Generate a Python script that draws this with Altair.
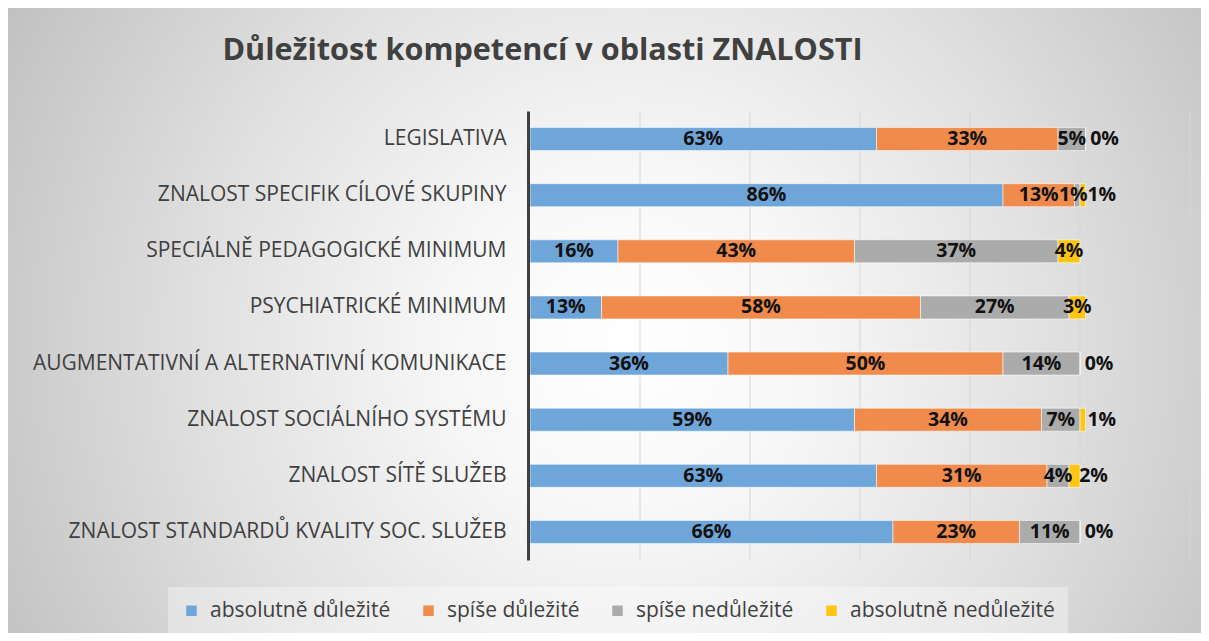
import altair as alt
import pandas as pd

categories = [
    "LEGISLATIVA",
    "ZNALOST SPECIFIK CÍLOVÉ SKUPINY",
    "SPECIÁLNĚ PEDAGOGICKÉ MINIMUM",
    "PSYCHIATRICKÉ MINIMUM",
    "AUGMENTATIVNÍ A ALTERNATIVNÍ KOMUNIKACE",
    "ZNALOST SOCIÁLNÍHO SYSTÉMU",
    "ZNALOST SÍTĚ SLUŽEB",
    "ZNALOST STANDARDŮ KVALITY SOC. SLUŽEB",
]
series = ["absolutně důležité", "spíše důležité", "spíše nedůležité", "absolutně nedůležité"]
absolutne_dulezite = [63, 86, 16, 13, 36, 59, 63, 66]
spise_dulezite = [33, 13, 43, 58, 50, 34, 31, 23]
spise_nedulezite = [5, 1, 37, 27, 14, 7, 4, 11]
absolutne_nedulezite = [0, 1, 4, 3, 0, 1, 2, 0]
colors = ["#6FA6DA", "#F08B4C", "#ABABAB", "#FFC514"]
grid_ticks = [20, 40, 60, 80, 100, 120]
title_text = "Důležitost kompetencí v oblasti ZNALOSTI"

rows = []
for s_i, (s_name, vals) in enumerate(zip(series, [absolutne_dulezite, spise_dulezite,
                                                   spise_nedulezite, absolutne_nedulezite])):
    for c, v in zip(categories, vals):
        rows.append({"cat": c, "series": s_name, "order": s_i, "value": v})
df = pd.DataFrame(rows)

FONT = "Open Sans"
W, H = 1193, 625
PLOT_TOP, PLOT_BOTTOM = 103, 552

xscale = alt.Scale(domain=[0, 120], range=[522, 1182], nice=False)
yenc = alt.Y(
    "cat:N",
    sort=categories,
    scale=alt.Scale(range=[PLOT_TOP, PLOT_BOTTOM], paddingInner=0.59, paddingOuter=0.295),
    axis=alt.Axis(title=None, offset=-520, domainColor="#404040", domainWidth=3,
                  ticks=False, labelFontSize=21, labelFont=FONT, labelColor="#404040",
                  labelPadding=22, grid=False, labelLimit=700, zindex=1),
)

background = alt.Chart(pd.DataFrame({"bg": [0]})).mark_rect(
    fill={
        "gradient": "radial",
        "x1": 0.52, "y1": 0.52, "x2": 0.52, "y2": 0.52, "r1": 0, "r2": 0.6,
        "stops": [
            {"offset": 0, "color": "#ffffff"},
            {"offset": 0.25, "color": "#f7f7f7"},
            {"offset": 0.6, "color": "#e0e0e0"},
            {"offset": 1, "color": "#c0c0c0"},
        ],
    }
).encode(x=alt.value(0), x2=alt.value(W), y=alt.value(0), y2=alt.value(H))

grid = alt.Chart(pd.DataFrame({"t": grid_ticks})).mark_rule(
    color="#d6d6d6", strokeWidth=1
).encode(
    x=alt.X("t:Q", scale=xscale, axis=None),
    y=alt.value(PLOT_TOP), y2=alt.value(PLOT_BOTTOM),
)

base = alt.Chart(df).transform_stack(
    stack="value", groupby=["cat"], sort=[alt.SortField("order", order="ascending")],
    as_=["v0", "v1"],
).transform_calculate(
    mid="(datum.v0 + datum.v1) / 2", label="datum.value + '%'"
)

bars = base.mark_bar(stroke="#ffffff", strokeOpacity=0.55, strokeWidth=1).encode(
    x=alt.X("v0:Q", scale=xscale, axis=None),
    x2="v1:Q",
    y=yenc,
    color=alt.Color(
        "series:N",
        scale=alt.Scale(domain=series, range=colors),
        legend=alt.Legend(
            title=None, orient="none", direction="horizontal", legendX=160, legendY=579,
            symbolType="square", symbolSize=110, symbolStrokeWidth=0,
            labelFont=FONT, labelFontSize=21, labelColor="#404040", labelOffset=8,
            labelLimit=400, columnPadding=27, padding=13,
            fillColor="rgba(255,255,255,0.35)",
        ),
    ),
)

cond_yellow = "datum.series == 'absolutně nedůležité' && datum.value <= 2"
cond_gray = "datum.series == 'spíše nedůležité' && datum.value <= 1"


def label_layer(flt, dx):
    return base.transform_filter(flt).mark_text(
        font=FONT, fontSize=19.5, fontWeight="bold", color="#111111",
        baseline="middle", align="center", dx=dx,
    ).encode(
        x=alt.X("mid:Q", scale=xscale, axis=None),
        y=yenc,
        text="label:N",
    )


texts = label_layer("!(" + cond_yellow + ") && !(" + cond_gray + ")", 0)
texts_yellow = label_layer(cond_yellow, 19)
texts_gray = label_layer(cond_gray, -4)

chart = alt.layer(background, grid, bars, texts, texts_yellow, texts_gray).properties(
    width=W, height=H,
    autosize=alt.AutoSizeParams(type="none"),
    padding=0,
    background="#d2d2d2",
    title=alt.TitleParams(
        title_text, font=FONT, fontSize=30.6, fontWeight="bold", color="#404040",
        anchor="middle", frame="group", dx=-62, dy=74, offset=0, baseline="middle",
    ),
).configure_view(stroke=None)

chart.save("out.html", embed_options={"renderer": "svg", "actions": False})
